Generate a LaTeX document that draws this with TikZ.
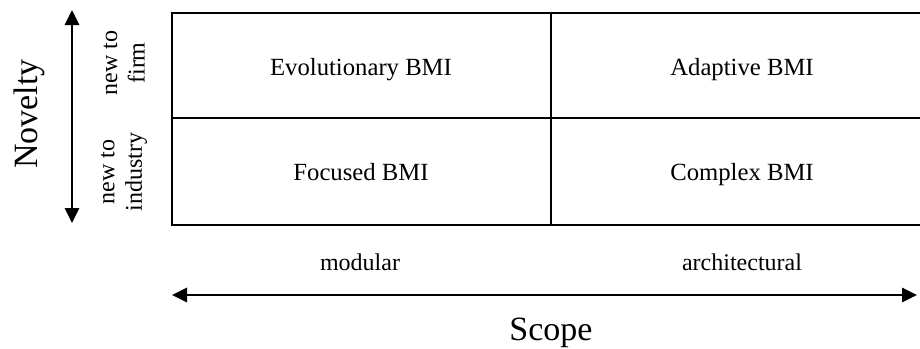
\documentclass[tikz,border=0pt]{standalone}
\usepackage{fontspec}
\setmainfont{Liberation Serif}
\usetikzlibrary{arrows.meta}
\tikzset{
    cell/.style={font=\fontsize{24.7}{28}\selectfont, anchor=base},
    axislabel/.style={font=\fontsize{34}{38}\selectfont},
    ticklabel/.style={font=\fontsize{24}{27.5}\selectfont, align=center},
    grid/.style={line width=2.6pt},
    axis/.style={line width=2.8pt, {Triangle[length=15pt,width=14pt]}-{Triangle[length=15pt,width=14pt]}}
}
\begin{document}
\begin{tikzpicture}[x=1pt,y=-1pt]
    \useasboundingbox (0,0) rectangle (920,348);
    % grid
    \draw[grid] (172,13) -- (920,13);
    \draw[grid] (172,118) -- (920,118);
    \draw[grid] (172,225) -- (920,225);
    \draw[grid] (172,11.7) -- (172,226.3);
    \draw[grid] (551,13) -- (551,225);
    % cells
    \node[cell] (evo) at (361,75) {Evolutionary BMI};
    \node[cell] (ada) at (742,75) {Adaptive BMI};
    \node[cell] (foc) at (361,180) {Focused BMI};
    \node[cell] (com) at (742,180) {Complex BMI};
    % novelty axis
    \coordinate (ntop) at (72,10);
    \coordinate (nbot) at (72,223);
    \draw[axis] (nbot) -- (ntop);
    \node[axislabel, rotate=90] (nov) at (29,114) {Novelty};
    \node[ticklabel, rotate=90] (firm) at (124,63) {new to\\firm};
    \node[ticklabel, rotate=90] (ind) at (124,172) {new to\\industry};
    % scope axis
    \coordinate (sleft) at (172,295);
    \coordinate (sright) at (917,295);
    \draw[axis] (sleft) -- (sright);
    \node[ticklabel, anchor=base] (mod) at (360,270) {modular};
    \node[ticklabel, anchor=base] (arc) at (742,270) {architectural};
    \node[axislabel, anchor=base] (sco) at (551,340) {Scope};
\end{tikzpicture}
\end{document}
